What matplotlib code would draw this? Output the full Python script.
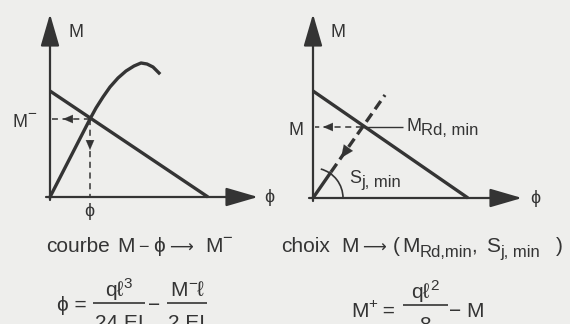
import matplotlib.pyplot as plt
from matplotlib.patches import Arc

FONT = ['Liberation Sans', 'DejaVu Sans']
ARROWFONT = ['DejaVu Sans']
INK = '#343434'
BG = '#eeeeec'

# diagram geometry, pixel coordinates (y downwards)
# left panel : courbe M - phi
left_origin = (50, 197)
left_tips = [(50, 14), (258, 197)]
left_line = [(50, 91), (208, 197)]
curve_x = [50, 90, 96, 103, 110, 118, 126, 134, 141, 147, 153, 159]
curve_y = [197, 119, 108, 97, 87, 78, 71, 66, 63, 64, 67, 73]
left_point = (90, 119)

# right panel : choix M
right_origin = (313, 198)
right_tips = [(313, 14), (522, 198)]
right_line = [(313, 91), (468, 198)]
stiff_solid = [(313, 198), (331, 172)]
stiff_dashed = [(331, 172), (385, 95)]
right_point = (362, 127)
arc_radius = 30
arc_angle = 75

fig = plt.figure(figsize=(5.7, 3.24), dpi=100, facecolor=BG)
ax = fig.add_axes([0, 0, 1, 1])
ax.set_xlim(0, 570)
ax.set_ylim(324, 0)
ax.axis('off')
ax.set_facecolor(BG)
R = fig.canvas.get_renderer()


def arrow(tip, tail, lw=1.6, hl=1.1, hw=0.32, ms=18):
    ax.annotate('', xy=tip, xytext=tail,
                arrowprops=dict(arrowstyle=f'-|>,head_length={hl},head_width={hw}',
                                mutation_scale=ms, lw=lw, color=INK, fc=INK,
                                shrinkA=0, shrinkB=0))


def seg(pts, **kw):
    ax.plot([p[0] for p in pts], [p[1] for p in pts], color=INK,
            solid_capstyle='butt', **kw)


def put(x, y, s, fs, family=FONT, ha='left'):
    return ax.text(x, y, s, fontsize=fs, family=family, color=INK,
                   va='baseline', ha=ha)


def runs(x, y, parts, ha='left'):
    # parts: (text, baseline shift, fontsize)
    objs = []
    for s, dy, fs in parts:
        t = put(x, y + dy, s, fs)
        w = t.get_window_extent(R).width
        objs.append((t, w))
        x += w
    if ha == 'center':
        total = sum(w for _, w in objs)
        for t, _ in objs:
            t.set_x(t.get_position()[0] - total / 2)
    return x


def frac(xc, ybar, num, den, width):
    seg([(xc - width / 2, ybar), (xc + width / 2, ybar)], lw=1.2)
    runs(xc, ybar - 7, num, ha='center')
    runs(xc, ybar + 26, den, ha='center')


# axes
for (ox, oy), tips in [(left_origin, left_tips), (right_origin, right_tips)]:
    arrow(tips[0], (ox, oy + 3))
    arrow(tips[1], (ox - 4, oy))

# left panel
seg(left_line, lw=2.4)
ax.plot(curve_x, curve_y, color=INK, lw=2.4, solid_joinstyle='round')
px, py = left_point
seg([(px, py), (52, py)], lw=1.1, ls=(0, (4, 3)))
seg([(px, py), (px, 196)], lw=1.1, ls=(0, (4, 3)))
arrow((63, py), (71, py), lw=0.1, hl=0.7, hw=0.3, ms=10)
arrow((px, 150), (px, 142), lw=0.1, hl=0.7, hw=0.3, ms=10)

# right panel
seg(right_line, lw=2.4)
seg(stiff_solid, lw=2.4)
seg(stiff_dashed, lw=2.4, ls=(0, (3, 1.6)))
arrow((341, 158), (346, 151), lw=0.1, hl=0.9, hw=0.4, ms=10)
qx, qy = right_point
seg([(qx, qy), (315, qy)], lw=1.1, ls=(0, (4, 3)))
arrow((323, qy), (331, qy), lw=0.1, hl=0.7, hw=0.3, ms=10)
seg([(qx, qy), (403, qy)], lw=1.0)
ax.add_patch(Arc(right_origin, 2 * arc_radius, 2 * arc_radius,
                 theta1=-arc_angle, theta2=0, color=INK, lw=1.2))

# labels
S = 13
runs(68, 37, [('M', 0, S)])
runs(331, 37, [('M', 0, S)])
runs(264, 202, [('ϕ', 0, S)])
runs(530, 203, [('ϕ', 0, S)])
runs(12, 127, [('M', 0, S), ('−', -9, 11)])
runs(289, 135, [('M', 0, S)])
runs(84, 216, [('ϕ', 0, S)])
runs(406, 131, [('M', 0, S), ('Rd, min', 4, 12)])
runs(349, 183, [('S', 0, S), ('j, min', 4, 12)])

# captions
C = 15
CS = 12
yc = 252
put(46, yc, 'courbe', C)
put(117, yc, 'M', C)
put(138, yc, '−', 13)
put(153, yc, 'ϕ', C)
put(169, yc + 1, '⟶', 12, ARROWFONT)
runs(205, yc, [('M', 0, C), ('−', -9, 12)])

put(281, yc, 'choix', C)
put(341, yc, 'M', C)
put(362, yc + 1, '⟶', 12, ARROWFONT)
put(393, yc, '(', C)
runs(402, yc, [('M', 0, C), ('Rd,min', 5, CS)])
put(471, yc, ',', C)
runs(486, yc, [('S', 0, C), ('j, min', 5, CS)])
put(556, yc, ')', C)

# formulas
F = 15
runs(57, 311, [('ϕ = ', 0, F)])
frac(119, 303, [('qℓ', 0, F), ('3', -8, 11)], [('24 EI', 0, F)], 52)
runs(148, 311, [('−', 0, F)])
frac(187, 303, [('M', 0, F), ('−', -8, 11), ('ℓ', 0, F)], [('2 EI', 0, F)], 40)

runs(351, 317, [('M', 0, F), ('+', -9, 11), (' =', 0, F)])
frac(425, 305, [('qℓ', 0, F), ('2', -8, 11)], [('8', 0, F)], 45)
runs(449, 317, [('− M', 0, F)])

fig.savefig('out.png', dpi=100, facecolor=BG)
